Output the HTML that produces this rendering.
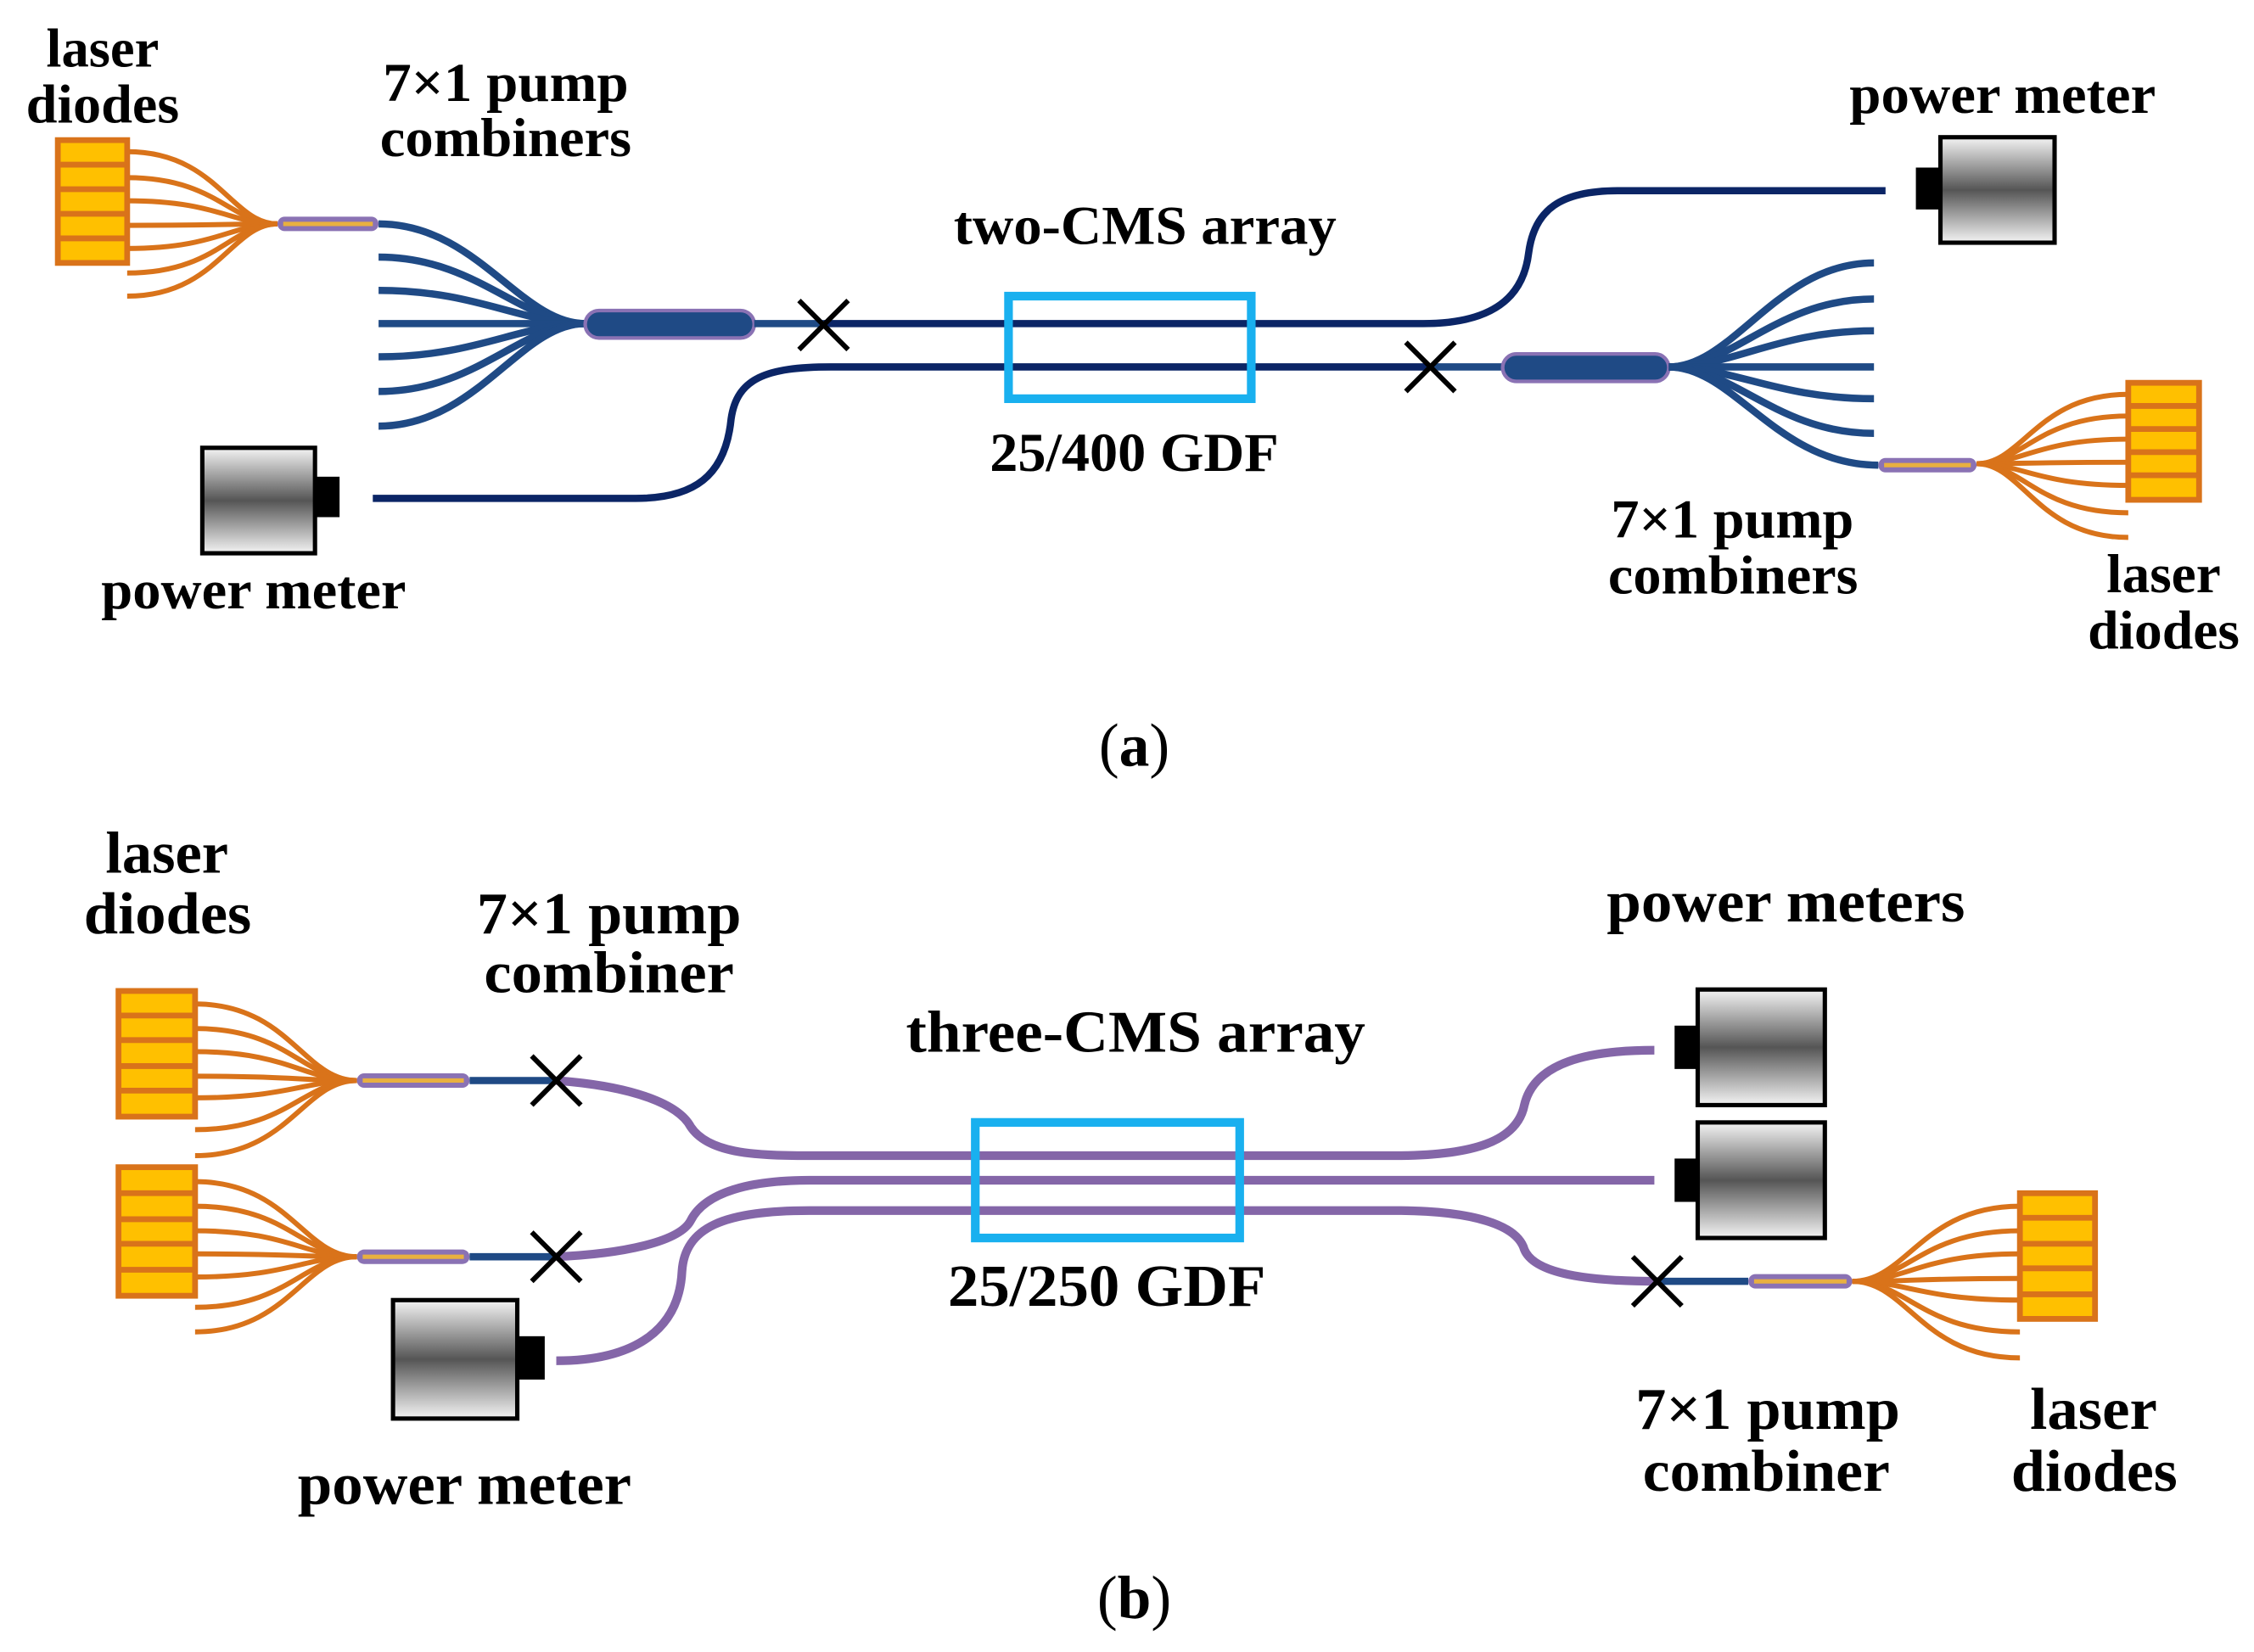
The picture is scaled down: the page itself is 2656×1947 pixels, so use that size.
<!DOCTYPE html>
<html><head><meta charset="utf-8"><style>
html,body{margin:0;padding:0;background:#fff;}
svg{display:block;}
text{font-family:"Liberation Serif",serif;font-weight:bold;fill:#000;}
</style></head><body>
<svg width="2656" height="1947" viewBox="0 0 1560 1143.6" xmlns="http://www.w3.org/2000/svg">
<defs>
<linearGradient id="pm" x1="0" y1="0" x2="0" y2="1">
<stop offset="0" stop-color="#f4f4f4"/><stop offset="0.5" stop-color="#555"/><stop offset="1" stop-color="#f4f4f4"/>
</linearGradient>
</defs>
<rect width="1560" height="1144" fill="#fff"/>

<!-- ============ PANEL A ============ -->
<g fill="none" stroke="#d9731a" stroke-width="3.5">
<path d="M88 105 C150 105,160 155,192 155"/><path d="M88 123 C150 123,160 155,192 155"/>
<path d="M88 139 C150 139,160 155,192 155"/><path d="M88 156 C150 156,160 155,192 155"/>
<path d="M88 172 C150 172,160 155,192 155"/><path d="M88 189 C150 189,160 155,192 155"/>
<path d="M88 205 C150 205,160 155,192 155"/>
</g>
<rect x="40" y="97" width="48" height="85" fill="#ffc000" stroke="#d9731a" stroke-width="4"/>
<g stroke="#d9731a" stroke-width="4"><line x1="40" y1="114" x2="88" y2="114"/><line x1="40" y1="131" x2="88" y2="131"/><line x1="40" y1="148" x2="88" y2="148"/><line x1="40" y1="165" x2="88" y2="165"/></g>
<rect x="192" y="150" width="70" height="10" rx="5" fill="#8a72b4"/><line x1="196" y1="155" x2="258" y2="155" stroke="#e8b040" stroke-width="3"/>

<g fill="none" stroke="#1f4a85" stroke-width="5">
<path d="M262 155 C330 155,360 224,405 224"/><path d="M262 178 C330 178,360 224,405 224"/>
<path d="M262 201 C330 201,360 224,405 224"/><path d="M262 224 L405 224"/>
<path d="M262 247 C330 247,360 224,405 224"/><path d="M262 271 C330 271,360 224,405 224"/>
<path d="M262 295 C330 295,360 224,405 224"/>
</g>
<rect x="405" y="215" width="117" height="19" rx="9.5" fill="#1f4a85" stroke="#8a72b4" stroke-width="2.5"/>
<line x1="522" y1="224" x2="570" y2="224" stroke="#1f4a85" stroke-width="5"/>
<g fill="none" stroke="#0b2566" stroke-width="5">
<path d="M570 224 L985 224 C1040 224,1055 200,1058 175 C1062 145,1080 132,1120 132 L1305 132"/>
<path d="M990 254 L575 254 C530 254,510 262,506 290 C502 330,480 345,440 345 L258 345"/>
</g>
<line x1="990" y1="254" x2="1040" y2="254" stroke="#1f4a85" stroke-width="5"/>
<rect x="698" y="205" width="168" height="71" fill="none" stroke="#19b0ef" stroke-width="6"/>
<g stroke="#000" stroke-width="3.5"><line x1="553" y1="208" x2="587" y2="242"/><line x1="587" y1="208" x2="553" y2="242"/>
<line x1="973" y1="237" x2="1007" y2="271"/><line x1="1007" y1="237" x2="973" y2="271"/></g>
<rect x="1040" y="245" width="115" height="19" rx="9.5" fill="#1f4a85" stroke="#8a72b4" stroke-width="2.5"/>
<g fill="none" stroke="#1f4a85" stroke-width="5">
<path d="M1155 254 C1200 254,1230 182,1297 182"/><path d="M1155 254 C1200 254,1230 207,1297 207"/>
<path d="M1155 254 C1200 254,1230 229,1297 229"/><path d="M1155 254 L1297 254"/>
<path d="M1155 254 C1200 254,1230 276,1297 276"/><path d="M1155 254 C1200 254,1230 300,1297 300"/>
<path d="M1155 254 C1200 254,1230 322,1300 322"/>
</g>
<rect x="1300" y="317" width="68" height="10" rx="5" fill="#8a72b4"/><line x1="1304" y1="322" x2="1364" y2="322" stroke="#e8b040" stroke-width="3"/>
<g fill="none" stroke="#d9731a" stroke-width="3.5">
<path d="M1473 273 C1410 273,1400 321,1368 321"/><path d="M1473 288 C1410 288,1400 321,1368 321"/>
<path d="M1473 304 C1410 304,1400 321,1368 321"/><path d="M1473 320 C1410 320,1400 321,1368 321"/>
<path d="M1473 336 C1410 336,1400 321,1368 321"/><path d="M1473 355 C1410 355,1400 321,1368 321"/>
<path d="M1473 372 C1410 372,1400 321,1368 321"/>
</g>
<rect x="1473" y="265" width="49" height="81" fill="#ffc000" stroke="#d9731a" stroke-width="4"/>
<g stroke="#d9731a" stroke-width="4"><line x1="1473" y1="281" x2="1522" y2="281"/><line x1="1473" y1="297" x2="1522" y2="297"/><line x1="1473" y1="313" x2="1522" y2="313"/><line x1="1473" y1="329" x2="1522" y2="329"/></g>
<rect x="140" y="310" width="78" height="73" fill="url(#pm)" stroke="#000" stroke-width="3"/>
<rect x="218" y="330" width="17" height="28" fill="#000"/>
<rect x="1343" y="95" width="79" height="73" fill="url(#pm)" stroke="#000" stroke-width="3"/>
<rect x="1326" y="116" width="17" height="29" fill="#000"/>

<g font-size="38" lengthAdjust="spacingAndGlyphs">
<text x="32" y="46" textLength="78" lengthAdjust="spacingAndGlyphs">laser</text>
<text x="18" y="85" textLength="106" lengthAdjust="spacingAndGlyphs">diodes</text>
<text x="265" y="70" textLength="170" lengthAdjust="spacingAndGlyphs">7×1 pump</text>
<text x="263" y="108" textLength="174" lengthAdjust="spacingAndGlyphs">combiners</text>
<text x="660" y="169" textLength="265" lengthAdjust="spacingAndGlyphs">two-CMS array</text>
<text x="685" y="326" textLength="200" lengthAdjust="spacingAndGlyphs">25/400 GDF</text>
<text x="70" y="421" textLength="211" lengthAdjust="spacingAndGlyphs">power meter</text>
<text x="1280" y="78" textLength="212" lengthAdjust="spacingAndGlyphs">power meter</text>
<text x="1115" y="372" textLength="168" lengthAdjust="spacingAndGlyphs">7×1 pump</text>
<text x="1113" y="411" textLength="173" lengthAdjust="spacingAndGlyphs">combiners</text>
<text x="1458" y="410" textLength="79" lengthAdjust="spacingAndGlyphs">laser</text>
<text x="1445" y="449" textLength="105" lengthAdjust="spacingAndGlyphs">diodes</text>
</g>
<text x="785" y="530" font-size="42" text-anchor="middle" style="font-weight:normal">(<tspan font-weight="bold">a</tspan>)</text>

<!-- ============ PANEL B ============ -->
<g fill="none" stroke="#d9731a" stroke-width="3.5">
<path d="M135 695 C200 695,210 748,247 748"/><path d="M135 712 C200 712,210 748,247 748"/>
<path d="M135 728 C200 728,210 748,247 748"/><path d="M135 745 C200 745,210 748,247 748"/>
<path d="M135 760 C200 760,210 748,247 748"/><path d="M135 782 C200 782,210 748,247 748"/>
<path d="M135 800 C200 800,210 748,247 748"/>
<path d="M135 818 C200 818,210 870,247 870"/><path d="M135 835 C200 835,210 870,247 870"/>
<path d="M135 852 C200 852,210 870,247 870"/><path d="M135 868 C200 868,210 870,247 870"/>
<path d="M135 884 C200 884,210 870,247 870"/><path d="M135 905 C200 905,210 870,247 870"/>
<path d="M135 922 C200 922,210 870,247 870"/>
</g>
<rect x="82" y="686" width="53" height="87" fill="#ffc000" stroke="#d9731a" stroke-width="4"/>
<g stroke="#d9731a" stroke-width="4"><line x1="82" y1="703" x2="135" y2="703"/><line x1="82" y1="720" x2="135" y2="720"/><line x1="82" y1="738" x2="135" y2="738"/><line x1="82" y1="755" x2="135" y2="755"/></g>
<rect x="82" y="808" width="53" height="89" fill="#ffc000" stroke="#d9731a" stroke-width="4"/>
<g stroke="#d9731a" stroke-width="4"><line x1="82" y1="826" x2="135" y2="826"/><line x1="82" y1="844" x2="135" y2="844"/><line x1="82" y1="861" x2="135" y2="861"/><line x1="82" y1="879" x2="135" y2="879"/></g>
<rect x="247" y="743" width="78" height="10" rx="5" fill="#8a72b4"/><line x1="251" y1="748" x2="321" y2="748" stroke="#e8b040" stroke-width="3"/>
<rect x="247" y="865" width="78" height="10" rx="5" fill="#8a72b4"/><line x1="251" y1="870" x2="321" y2="870" stroke="#e8b040" stroke-width="3"/>
<g stroke="#1f4a85" stroke-width="5"><line x1="325" y1="748" x2="385" y2="748"/><line x1="325" y1="870" x2="385" y2="870"/><line x1="1147" y1="887" x2="1210" y2="887"/></g>
<g fill="none" stroke="#8466a8" stroke-width="6">
<path d="M385 748 C440 752,470 765,478 780 C490 798,520 800,560 800 L965 800 C1020 800,1050 790,1055 765 C1062 735,1100 727,1145 727"/>
<path d="M385 870 C430 868,470 860,478 845 C488 825,520 817,560 817 L1145 817"/>
<path d="M385 942 C440 942,470 920,472 880 C474 850,500 838,560 838 L965 838 C1020 838,1050 848,1055 865 C1062 882,1100 887,1147 887"/>
</g>
<rect x="675" y="777" width="183" height="80" fill="none" stroke="#19b0ef" stroke-width="6"/>
<g stroke="#000" stroke-width="3.5">
<line x1="368" y1="731" x2="402" y2="765"/><line x1="402" y1="731" x2="368" y2="765"/>
<line x1="368" y1="853" x2="402" y2="887"/><line x1="402" y1="853" x2="368" y2="887"/>
<line x1="1130" y1="870" x2="1164" y2="904"/><line x1="1164" y1="870" x2="1130" y2="904"/>
</g>
<rect x="1210" y="882" width="72" height="10" rx="5" fill="#8a72b4"/><line x1="1214" y1="887" x2="1278" y2="887" stroke="#e8b040" stroke-width="3"/>
<g fill="none" stroke="#d9731a" stroke-width="3.5">
<path d="M1398 835 C1330 835,1320 887,1282 887"/><path d="M1398 852 C1330 852,1320 887,1282 887"/>
<path d="M1398 868 C1330 868,1320 887,1282 887"/><path d="M1398 885 C1330 885,1320 887,1282 887"/>
<path d="M1398 900 C1330 900,1320 887,1282 887"/><path d="M1398 922 C1330 922,1320 887,1282 887"/>
<path d="M1398 940 C1330 940,1320 887,1282 887"/>
</g>
<rect x="1398" y="826" width="52" height="87" fill="#ffc000" stroke="#d9731a" stroke-width="4"/>
<g stroke="#d9731a" stroke-width="4"><line x1="1398" y1="843" x2="1450" y2="843"/><line x1="1398" y1="861" x2="1450" y2="861"/><line x1="1398" y1="878" x2="1450" y2="878"/><line x1="1398" y1="896" x2="1450" y2="896"/></g>
<rect x="272" y="900" width="86" height="82" fill="url(#pm)" stroke="#000" stroke-width="3"/>
<rect x="358" y="925" width="19" height="30" fill="#000"/>
<rect x="1175" y="685" width="88" height="80" fill="url(#pm)" stroke="#000" stroke-width="3"/>
<rect x="1159" y="710" width="16" height="30" fill="#000"/>
<rect x="1175" y="777" width="88" height="80" fill="url(#pm)" stroke="#000" stroke-width="3"/>
<rect x="1159" y="802" width="16" height="30" fill="#000"/>

<g font-size="41">
<text x="73" y="604" textLength="85" lengthAdjust="spacingAndGlyphs">laser</text>
<text x="58" y="646" textLength="116" lengthAdjust="spacingAndGlyphs">diodes</text>
<text x="330" y="646" textLength="183" lengthAdjust="spacingAndGlyphs">7×1 pump</text>
<text x="335" y="687" textLength="173" lengthAdjust="spacingAndGlyphs">combiner</text>
<text x="627" y="728" textLength="318" lengthAdjust="spacingAndGlyphs">three-CMS array</text>
<text x="656" y="904" textLength="220" lengthAdjust="spacingAndGlyphs">25/250 GDF</text>
<text x="1112" y="638" textLength="248" lengthAdjust="spacingAndGlyphs">power meters</text>
<text x="206" y="1041" textLength="231" lengthAdjust="spacingAndGlyphs">power meter</text>
<text x="1132" y="989" textLength="183" lengthAdjust="spacingAndGlyphs">7×1 pump</text>
<text x="1137" y="1032" textLength="171" lengthAdjust="spacingAndGlyphs">combiner</text>
<text x="1405" y="989" textLength="88" lengthAdjust="spacingAndGlyphs">laser</text>
<text x="1392" y="1032" textLength="115" lengthAdjust="spacingAndGlyphs">diodes</text>
</g>
<text x="785" y="1120" font-size="42" text-anchor="middle" style="font-weight:normal">(<tspan font-weight="bold">b</tspan>)</text>
</svg>
</body></html>
